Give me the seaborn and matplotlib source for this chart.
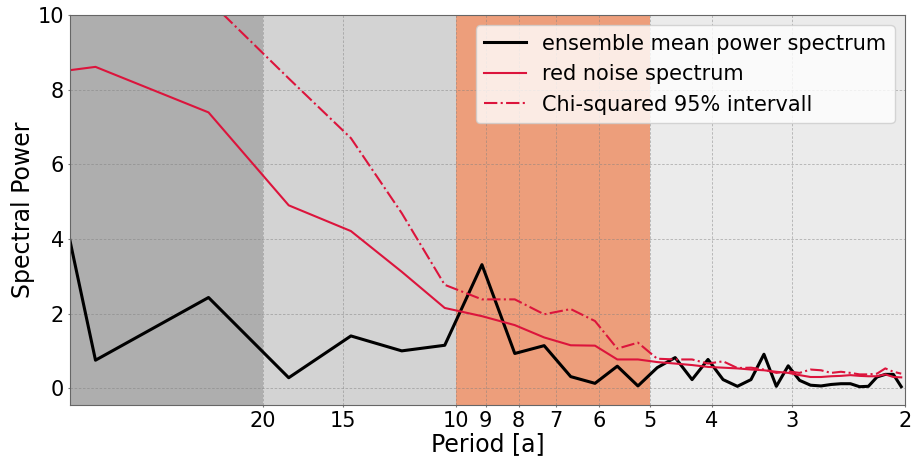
import numpy as np
import pandas as pd
import matplotlib
matplotlib.use("Agg")
import matplotlib.pyplot as plt
import seaborn as sns
from matplotlib.ticker import NullLocator, FixedLocator

# ---- data ----
n_years = 73
harmonics = list(range(1, 37))
ensemble_mean = [25.0, 0.75, 2.43, 0.28, 1.40, 1.00, 1.15, 3.31, 0.93, 1.14, 0.31, 0.13,
                 0.59, 0.06, 0.55, 0.82, 0.23, 0.77, 0.23, 0.05, 0.23, 0.91, 0.05, 0.60,
                 0.21, 0.08, 0.06, 0.10, 0.12, 0.12, 0.04, 0.05, 0.30, 0.37, 0.37, 0.04]
red_noise = [7.94, 8.61, 7.39, 4.90, 4.21, 3.12, 2.15, 1.93, 1.69, 1.36, 1.15, 1.14,
             0.77, 0.77, 0.70, 0.66, 0.62, 0.57, 0.55, 0.53, 0.50, 0.48, 0.44, 0.41,
             0.35, 0.30, 0.30, 0.32, 0.33, 0.35, 0.33, 0.32, 0.32, 0.37, 0.30, 0.29]
chi95 = [11.5, 12.5, 10.4, 8.30, 6.70, 4.69, 2.77, 2.38, 2.38, 1.98, 2.12, 1.80,
         1.06, 1.22, 0.79, 0.77, 0.77, 0.66, 0.72, 0.54, 0.55, 0.50, 0.41, 0.45,
         0.41, 0.50, 0.48, 0.41, 0.44, 0.41, 0.37, 0.37, 0.39, 0.53, 0.44, 0.39]
period_ticks = [20, 15, 10, 9, 8, 7, 6, 5, 4, 3, 2]
band_periods = [40, 20, 10, 5, 2]
band_colors = ["#aeaeae", "#d3d3d3", "#ed9e7b", "#ebebeb"]

freq = [k / n_years for k in harmonics]
df = pd.DataFrame({"freq": freq, "mean": ensemble_mean,
                   "red": red_noise, "chi": chi95})

fig = plt.figure(figsize=(9.17, 4.63), dpi=100)
ax = fig.add_axes([0.0763, 0.1253, 0.9107, 0.8423])

for i, c in enumerate(band_colors):
    ax.axvspan(1 / band_periods[i], 1 / band_periods[i + 1], color=c, lw=0, zorder=0)

sns.lineplot(data=df, x="freq", y="mean", ax=ax, color="black", lw=2.2,
             label="ensemble mean power spectrum", sort=False)
sns.lineplot(data=df, x="freq", y="red", ax=ax, color="crimson", lw=1.5,
             label="red noise spectrum", sort=False)
sns.lineplot(data=df, x="freq", y="chi", ax=ax, color="crimson", lw=1.5,
             linestyle="-.", label="Chi-squared 95% intervall", sort=False)

ax.set_xscale("log")
ax.set_xlim(1 / 40, 1 / 2)
ax.set_ylim(-0.45, 10)
ax.xaxis.set_major_locator(FixedLocator([1 / p for p in period_ticks]))
ax.set_xticklabels([str(p) for p in period_ticks])
ax.xaxis.set_minor_locator(NullLocator())
ax.set_yticks([0, 2, 4, 6, 8, 10])
ax.tick_params(labelsize=15, length=1.2, color="#777777", pad=3)
ax.set_xlabel("Period [a]", fontsize=17, labelpad=1)
ax.set_ylabel("Spectral Power", fontsize=17, labelpad=2)
ax.grid(True, linestyle=(0, (3, 2)), color="gray", alpha=0.55, lw=0.6)
for s in ax.spines.values():
    s.set_color("#666666")

ax.legend(loc="upper right", fontsize=15)

fig.savefig("out.png", dpi=100)
